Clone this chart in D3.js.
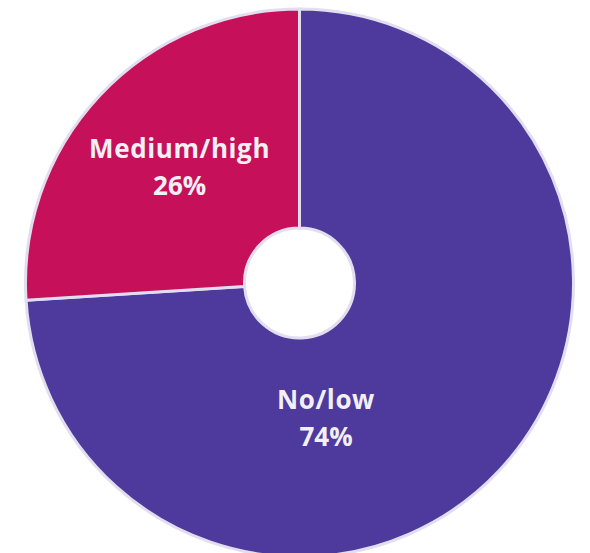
<!DOCTYPE html>
<html>
<head>
<meta charset="utf-8">
<script src="https://cdn.jsdelivr.net/npm/d3@7"></script>
<style>
  html, body { margin: 0; padding: 0; background: #ffffff; }
  svg { display: block; }
</style>
</head>
<body>
<svg id="chart" width="590" height="553"></svg>
<script>
// Risk level shares
const categories = ["No/low", "Medium/high"];
const values = [74, 26];
const colors = ["#4e3a9c", "#c6105a"];

const width = 590, height = 553;
const cx = 299.5, cy = 283;
const outerR = 274, innerR = 55;

const svg = d3.select("#chart");
const g = svg.append("g").attr("transform", `translate(${cx},${cy})`);

const pie = d3.pie().sort(null).value(d => d.value);
const arcs = pie(categories.map((c, i) => ({ name: c, value: values[i], color: colors[i] })));

const arc = d3.arc().innerRadius(innerR).outerRadius(outerR);

g.selectAll("path.slice")
  .data(arcs)
  .join("path")
  .attr("class", "slice")
  .attr("d", arc)
  .attr("fill", d => d.data.color)
  .attr("stroke", "#e2def0")
  .attr("stroke-width", 3)
  .attr("stroke-linejoin", "miter");

// Label anchors: polar position (angle offset from slice middle, radius)
const labelPlacement = [
  { angleShift: 0.619, r: 135 },
  { angleShift: 0.028, r: 169 }
];

const label = g.selectAll("g.label")
  .data(arcs)
  .join("g")
  .attr("class", "label")
  .attr("transform", (d, i) => {
    const a = (d.startAngle + d.endAngle) / 2 + labelPlacement[i].angleShift;
    const r = labelPlacement[i].r;
    return `translate(${Math.sin(a) * r},${-Math.cos(a) * r})`;
  });

const font = "'Open Sans', sans-serif";

label.append("text")
  .attr("text-anchor", "middle")
  .attr("y", -6)
  .attr("font-family", font)
  .attr("font-weight", "bold")
  .attr("font-size", 26)
  .attr("letter-spacing", 0.6)
  .attr("fill", "#f2f0f4")
  .text(d => d.data.name);

label.append("text")
  .attr("text-anchor", "middle")
  .attr("y", 31)
  .attr("font-family", font)
  .attr("font-weight", "bold")
  .attr("font-size", 26)
  .attr("fill", "#f2f0f4")
  .text(d => d.data.value + "%");
</script>
</body>
</html>
